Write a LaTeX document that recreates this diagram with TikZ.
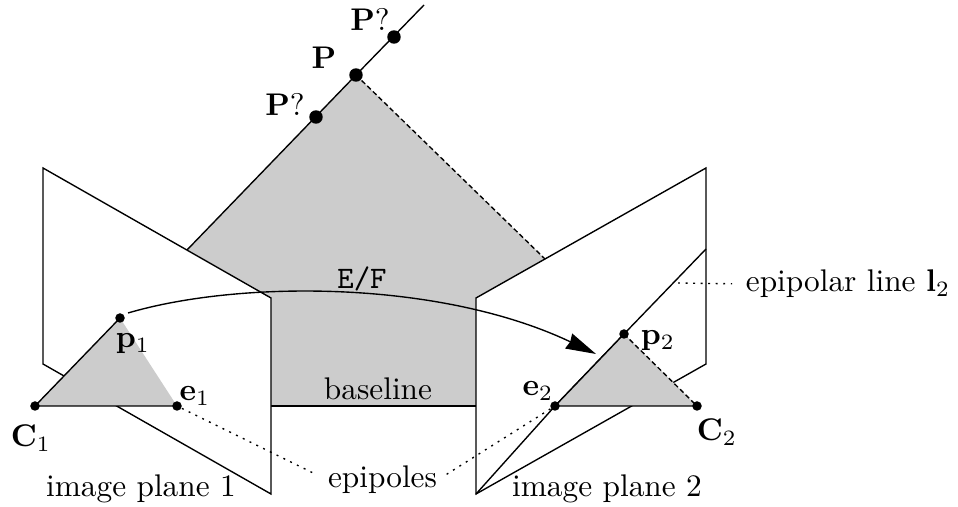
\documentclass[tikz,border=0pt]{standalone}
\usetikzlibrary{arrows.meta}
\definecolor{greyfill}{gray}{0.8}
\tikzset{
  x=0.305pt,y=-0.305pt,
  every path/.style={line width=0.42pt,line join=miter},
  bigdot/.style={circle,fill=black,inner sep=0pt,minimum size=4.1pt},
  smalldot/.style={circle,fill=black,inner sep=0pt,minimum size=2.9pt},
  lbl/.style={inner sep=0pt,scale=0.955},
  plane/.style={draw=black,fill=white},
  dashline/.style={dash pattern=on 1.5pt off 0.9pt},
  dotline/.style={dash pattern=on 0.6pt off 1.7pt},
}
\begin{document}
\begin{tikzpicture}
\useasboundingbox (0,0) rectangle (958,507);
% named points
\coordinate (top) at (424,5);
\coordinate (A) at (187,250);
\coordinate (B) at (271,298);
\coordinate (Bb) at (271,406);
\coordinate (Cc) at (476,406);
\coordinate (D) at (476,298);
\coordinate (E) at (545,259);
\coordinate (L1) at (43,168);
\coordinate (L2) at (271,494);
\coordinate (L3) at (43,364);
\coordinate (R1) at (706,168);
\coordinate (R2) at (706,364);
\coordinate (R3) at (476,494);
\coordinate (Rline) at (706,249);
\coordinate (P) at (356,75);
\coordinate (Pa) at (394,37);
\coordinate (Pb) at (316,117);
\coordinate (c1) at (35,406);
\coordinate (p1) at (120,318);
\coordinate (e1) at (177,406);
\coordinate (c2) at (697,406);
\coordinate (p2) at (624,334);
\coordinate (e2) at (555,406);
% central shaded plane
\fill[greyfill] (P) -- (A) -- (B) -- (Bb) -- (Cc) -- (D) -- (E) -- cycle;
\draw (A) -- (P) -- (top);
\draw[dashline] (P) -- (E);
\draw (Bb) -- (Cc);
% image planes
\draw[plane] (L1) -- (B) -- (L2) -- (L3) -- cycle;
\draw[plane] (D) -- (R1) -- (R2) -- (R3) -- cycle;
% epipolar line
\draw (R3) -- (e2) -- (p2) -- (Rline);
% small triangles
\fill[greyfill] (c1) -- (p1) -- (e1) -- cycle;
\draw (p1) -- (c1) -- (e1);
\fill[greyfill] (c2) -- (p2) -- (e2) -- cycle;
\draw (p2) -- (e2) -- (c2);
\draw[dashline] (p2) -- (c2);
% dots
\node[bigdot] (nP) at (P) {};
\node[bigdot] (nPa) at (Pa) {};
\node[bigdot] (nPb) at (Pb) {};
\node[smalldot] (nc1) at (c1) {};
\node[smalldot] (np1) at (p1) {};
\node[smalldot] (ne1) at (e1) {};
\node[smalldot] (nc2) at (c2) {};
\node[smalldot] (np2) at (p2) {};
\node[smalldot] (ne2) at (e2) {};
% labels
\node[lbl] (lP) at (324,58) {$\mathbf{P}$};
\node[lbl] (lPa) at (370,20) {$\mathbf{P}?$};
\node[lbl] (lPb) at (285,105) {$\mathbf{P}?$};
\node[lbl] (lc1) at (31,438) {$\mathbf{C}_1$};
\node[lbl] (lp1) at (133,344) {$\mathbf{p}_1$};
\node[lbl] (le1) at (195,396) {$\mathbf{e}_1$};
\node[lbl] (lc2) at (717,432) {$\mathbf{C}_2$};
\node[lbl] (lp2) at (658,341) {$\mathbf{p}_2$};
\node[lbl] (le2) at (538,391) {$\mathbf{e}_2$};
\node[lbl] (base) at (378,389) {baseline};
\node[lbl] (ef) at (362,279) {\texttt{E/F}};
\node[lbl] (ip1) at (141,489) {image plane 1};
\node[lbl] (ip2) at (607,489) {image plane 2};
\node[lbl] (epi) at (382.5,480) {epipoles};
\node[lbl] (epl) at (848,284) {epipolar line $\mathbf{l}_2$};
% connectors
\coordinate (astart) at (128,313);
\coordinate (aend) at (596,354);
\draw[-{Stealth[length=9.2pt,width=5pt,inset=0.5pt]}] (astart) .. controls (240,280) and (440,280) .. (aend);
\draw[dotline,shorten >=4pt] (ne1) -- (epi.west);
\draw[dotline,shorten >=2.5pt] (ne2) -- (epi.east);
\coordinate (eplstart) at (678,283);
\draw[dotline,shorten >=4pt] (eplstart) -- (epl.west);
\end{tikzpicture}
\end{document}
